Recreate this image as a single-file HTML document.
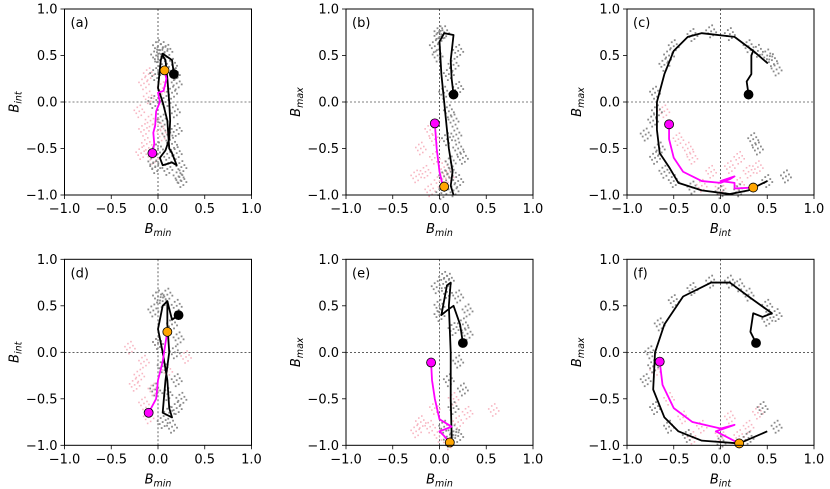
<!DOCTYPE html>
<html><head><meta charset="utf-8"><style>
body{margin:0;background:#fff;}
svg{display:block;font-family:"DejaVu Sans","Liberation Sans",sans-serif;}
</style></head><body>
<svg id="fig" width="830" height="489" viewBox="0 0 830 489"></svg>
<script>
const ticks=[-1,-0.5,0,0.5,1];
const tickLabels=["\u22121.0","\u22120.5","0.0","0.5","1.0"];
const panelLabels=["(a)","(b)","(c)","(d)","(e)","(f)"];
const xSubs=["min","min","int","min","min","int"];
const ySubs=["int","max","max","int","max","max"];
const blackPaths=[
[[0.17,0.30],[0.15,0.45],[0.05,0.52],[0.03,0.45],[0.0,0.15],[0.05,0.0],[0.1,-0.2],[0.12,-0.5],[0.15,-0.55],[0.2,-0.68],[0.15,-0.65],[0.05,-0.68],[0.02,-0.6],[0.08,-0.52],[0.12,-0.4],[0.13,-0.2],[0.12,0.0],[0.1,0.25],[0.08,0.45],[0.05,0.5]],
[[0.15,0.08],[0.13,0.25],[0.12,0.45],[0.15,0.72],[0.05,0.74],[0.0,0.65],[0.02,0.3],[0.05,0.0],[0.08,-0.3],[0.1,-0.5],[0.14,-0.75],[0.12,-0.9],[0.15,-1.0]],
[[0.3,0.08],[0.28,0.22],[0.33,0.3],[0.33,0.5],[0.35,0.55],[0.5,0.42],[0.35,0.55],[0.15,0.7],[-0.2,0.74],[-0.35,0.7],[-0.5,0.55],[-0.6,0.3],[-0.68,0.0],[-0.68,-0.3],[-0.65,-0.55],[-0.55,-0.7],[-0.45,-0.87],[-0.2,-0.95],[0.1,-0.99],[0.3,-0.95],[0.5,-0.85]],
[[0.22,0.4],[0.15,0.35],[0.1,0.55],[0.05,0.5],[0.0,0.25],[0.05,0.0],[0.1,-0.3],[0.12,-0.6],[0.15,-0.7],[0.05,-0.65],[0.08,-0.3],[0.12,0.0],[0.1,0.3],[0.1,0.55]],
[[0.25,0.1],[0.22,0.3],[0.15,0.5],[0.08,0.45],[0.02,0.4],[0.08,0.72],[0.12,0.75],[0.1,0.5],[0.12,0.0],[0.12,-0.5],[0.13,-0.9],[0.12,-0.97]],
[[0.38,0.1],[0.32,0.22],[0.35,0.42],[0.45,0.38],[0.55,0.42],[0.3,0.6],[0.1,0.75],[-0.1,0.75],[-0.4,0.6],[-0.6,0.3],[-0.7,0.0],[-0.72,-0.4],[-0.6,-0.7],[-0.45,-0.85],[-0.2,-0.95],[0.2,-0.98],[0.5,-0.85]]
];
const magentaPaths=[
[[0.07,0.34],[0.09,0.25],[0.06,0.12],[0.0,0.1],[0.02,0.0],[-0.02,-0.1],[-0.03,-0.25],[-0.05,-0.33],[-0.04,-0.45],[-0.06,-0.55]],
[[-0.05,-0.23],[-0.03,-0.5],[0.0,-0.75],[0.03,-0.88],[0.05,-0.91]],
[[-0.55,-0.24],[-0.55,-0.4],[-0.5,-0.6],[-0.4,-0.75],[-0.2,-0.85],[0.0,-0.87],[0.1,-0.83],[0.15,-0.8],[0.0,-0.85],[0.15,-0.87],[0.15,-0.93],[0.35,-0.92]],
[[0.1,0.22],[0.08,0.1],[0.05,-0.1],[0.0,-0.3],[-0.02,-0.5],[-0.1,-0.65]],
[[-0.09,-0.11],[-0.08,-0.3],[-0.05,-0.5],[0.0,-0.72],[0.13,-0.8],[0.0,-0.85],[0.05,-0.9],[0.11,-0.97]],
[[-0.65,-0.1],[-0.62,-0.35],[-0.5,-0.6],[-0.3,-0.75],[0.0,-0.82],[0.15,-0.78],[-0.05,-0.85],[0.2,-0.98]]
];
const grayPoints=[
[[0.0,0.6],[0.05,0.58],[-0.02,0.5],[0.1,0.55],[0.15,0.4],[-0.03,0.3],[0.2,0.2],[0.15,0.1],[-0.05,0.0],[0.18,-0.1],[0.05,-0.2],[0.2,-0.3],[0.15,-0.45],[0.0,-0.5],[0.2,-0.55],[-0.05,-0.65],[0.25,-0.7],[0.22,-0.8],[0.25,-0.85],[0.1,-0.72],[-0.03,-0.7],[0.02,0.45],[0.12,-0.6],[0.18,0.3],[0.08,0.0],[0.1,-0.35]],
[[0.0,0.7],[0.05,0.75],[-0.05,0.6],[0.2,0.55],[0.15,0.4],[0.1,0.3],[0.2,0.15],[0.05,0.1],[0.1,-0.1],[0.15,-0.2],[0.08,-0.4],[0.2,-0.5],[0.12,-0.65],[0.05,-0.8],[0.2,-0.85],[0.15,-0.95],[0.02,-0.98],[0.25,-0.6],[-0.02,0.5],[0.18,-0.35],[0.0,0.75],[0.12,-0.75]],
[[-0.3,0.72],[-0.1,0.76],[0.1,0.73],[0.3,0.6],[0.5,0.5],[0.6,0.35],[0.55,0.45],[-0.5,0.6],[-0.6,0.4],[-0.7,0.1],[-0.72,-0.2],[-0.8,-0.35],[-0.7,-0.6],[-0.6,-0.75],[-0.5,-0.85],[-0.3,-0.92],[0.0,-0.97],[0.2,-0.95],[0.5,-0.85],[0.7,-0.8],[0.4,-0.5],[0.35,-0.4],[-0.65,-0.5],[-0.55,0.5],[0.4,0.55],[-0.68,-0.1]],
[[0.0,0.6],[0.1,0.62],[-0.05,0.45],[0.2,0.5],[0.15,0.3],[0.0,0.1],[0.18,0.0],[0.05,-0.15],[0.2,-0.3],[0.1,-0.45],[0.2,-0.6],[0.05,-0.75],[0.15,-0.8],[0.25,-0.5],[-0.03,-0.4],[0.22,0.15],[0.05,0.55],[0.12,-0.65]],
[[0.05,0.8],[0.1,0.78],[-0.03,0.7],[0.2,0.6],[0.3,0.45],[0.25,0.3],[0.0,0.5],[0.15,0.25],[0.2,-0.1],[0.1,-0.3],[0.25,-0.4],[0.15,-0.6],[0.05,-0.8],[0.2,-0.9],[0.1,-0.95],[0.3,0.2],[0.0,0.4],[0.08,0.65],[0.15,-0.85]],
[[-0.1,0.76],[0.1,0.76],[0.3,0.62],[0.5,0.5],[0.6,0.4],[-0.3,0.68],[-0.5,0.55],[-0.65,0.3],[-0.75,0.0],[-0.8,-0.3],[-0.7,-0.6],[-0.55,-0.8],[-0.35,-0.9],[0.0,-0.97],[0.3,-0.92],[0.6,-0.8],[0.45,-0.6],[0.5,0.35],[-0.72,-0.15],[0.2,0.72]]
];
const pinkPoints=[
[[-0.15,0.2],[-0.1,0.05],[-0.2,-0.1],[-0.08,-0.2],[-0.15,-0.3],[0.05,-0.35],[-0.12,-0.45],[-0.05,-0.6],[-0.18,-0.55],[0.0,-0.25],[-0.1,0.3],[0.05,0.15]],
[[-0.1,-0.3],[-0.2,-0.5],[-0.05,-0.6],[-0.15,-0.75],[0.0,-0.85],[-0.1,-0.95],[0.05,-0.7],[-0.25,-0.8],[0.1,-0.8],[-0.05,-0.4]],
[[-0.6,-0.1],[-0.45,-0.4],[-0.3,-0.6],[-0.1,-0.75],[0.1,-0.7],[0.3,-0.75],[0.4,-0.7],[-0.2,-0.9],[0.0,-0.92],[0.2,-0.88],[-0.35,-0.5],[0.2,-0.6]],
[[-0.3,0.05],[-0.15,-0.1],[-0.2,-0.25],[-0.05,-0.4],[-0.15,-0.55],[0.1,-0.2],[-0.25,-0.35],[0.0,0.1],[-0.1,-0.7],[0.3,-0.05]],
[[-0.2,-0.75],[-0.1,-0.8],[0.0,-0.9],[0.2,-0.75],[0.3,-0.65],[0.58,-0.62],[-0.05,-0.6],[0.1,-0.98],[-0.25,-0.85],[0.15,-0.5]],
[[-0.7,-0.2],[-0.55,-0.5],[-0.4,-0.7],[-0.2,-0.8],[0.0,-0.88],[0.2,-0.9],[0.3,-0.8],[0.1,-0.7],[-0.3,-0.92],[0.4,-0.65]]
];
const startPts=[[0.17,0.30],[0.15,0.08],[0.3,0.08],[0.22,0.4],[0.25,0.1],[0.38,0.1]];
const orangePts=[[0.07,0.34],[0.05,-0.91],[0.35,-0.92],[0.1,0.22],[0.11,-0.97],[0.2,-0.98]];
const magentaPts=[[-0.06,-0.55],[-0.05,-0.23],[-0.55,-0.24],[-0.1,-0.65],[-0.09,-0.11],[-0.65,-0.1]];
// pixel offsets used to render each sample as a small speckle cluster (style only)
const speckle=[[0,0],[3,-2],[-3,2],[2,4],[-2,-4],[5,1],[-5,-1],[1,-6],[-1,6]];

const NS="http://www.w3.org/2000/svg";
const svg=document.getElementById('fig');
function mk(tag,attrs,parent){const e=document.createElementNS(NS,tag);for(const k in attrs)e.setAttribute(k,attrs[k]);(parent||svg).appendChild(e);return e;}
const lefts=[64.5,346,627],tops=[9,259.3],W=187,H=186;
for(let p=0;p<6;p++){
  const L=lefts[p%3],T=tops[Math.floor(p/3)];
  const sx=v=>L+(v+1)/2*W, sy=v=>T+(1-v)/2*H;
  const g=mk('g',{});
  
  
  const zx=mk('line',{x1:sx(0),x2:sx(0),y1:T,y2:T+H,stroke:'#000','stroke-width':0.6,'stroke-dasharray':'2,2'},g);
  
  const zy=mk('line',{x1:L,x2:L+W,y1:sy(0),y2:sy(0),stroke:'#000','stroke-width':0.6,'stroke-dasharray':'2,2'},g);
  
  pinkPoints[p].forEach(d=>{speckle.forEach(o=>{const c=mk('rect',{x:sx(d[0])+o[0]-0.8,y:sy(d[1])+o[1]-0.8,width:1.6,height:1.6,fill:'#f7b6c2'},g);
    });});
  grayPoints[p].forEach(d=>{speckle.forEach(o=>{const c=mk('rect',{x:sx(d[0])+o[0]-0.9,y:sy(d[1])+o[1]-0.9,width:1.8,height:1.8,fill:'#8a8a8a'},g);
    });});
  const bl=mk('polyline',{points:blackPaths[p].map(d=>sx(d[0])+','+sy(d[1])).join(' '),fill:'none',stroke:'#000','stroke-width':1.8,'stroke-linejoin':'round'},g);
  
  const ml=mk('polyline',{points:magentaPaths[p].map(d=>sx(d[0])+','+sy(d[1])).join(' '),fill:'none',stroke:'#ff00ff','stroke-width':1.8,'stroke-linejoin':'round'},g);
  
  const c1=mk('circle',{cx:sx(startPts[p][0]),cy:sy(startPts[p][1]),r:4.5,fill:'#000',stroke:'#000','stroke-width':0.8},g);
  
  const c2=mk('circle',{cx:sx(orangePts[p][0]),cy:sy(orangePts[p][1]),r:4.5,fill:'#ffa500',stroke:'#000','stroke-width':0.8},g);
  
  const c3=mk('circle',{cx:sx(magentaPts[p][0]),cy:sy(magentaPts[p][1]),r:4.5,fill:'#ff00ff',stroke:'#000','stroke-width':0.8},g);
  
  const fr=mk('rect',{x:L,y:T,width:W,height:H,fill:'none',stroke:'#000','stroke-width':1},g);
  
  ticks.forEach((t,i)=>{
    mk('line',{x1:sx(t),x2:sx(t),y1:T+H,y2:T+H+4,stroke:'#000','stroke-width':0.8},g);
    mk('line',{x1:L-4,x2:L,y1:sy(t),y2:sy(t),stroke:'#000','stroke-width':0.8},g);
    const xt=mk('text',{x:sx(t),y:T+H+18,'text-anchor':'middle','font-size':13},g);xt.textContent=tickLabels[i];
    
    const yt=mk('text',{x:L-7,y:sy(t)+4.5,'text-anchor':'end','font-size':13},g);yt.textContent=tickLabels[i];
    
  });
  const pl=mk('text',{x:L+6,y:T+18,'font-size':13},g);pl.textContent=panelLabels[p];
  
  const xl=mk('text',{x:L+W/2,y:T+H+38,'text-anchor':'middle','font-size':13,'font-style':'italic'},g);
  xl.innerHTML='B<tspan font-size="9.5" dy="3">'+xSubs[p]+'</tspan>';
  
  const yx=L-46,yy=T+H/2;
  const yl=mk('text',{x:yx,y:yy,'text-anchor':'middle','font-size':13,'font-style':'italic',transform:'rotate(-90 '+yx+' '+yy+')'},g);
  yl.innerHTML='B<tspan font-size="9.5" dy="3">'+ySubs[p]+'</tspan>';
  
}
</script>
</body></html>
